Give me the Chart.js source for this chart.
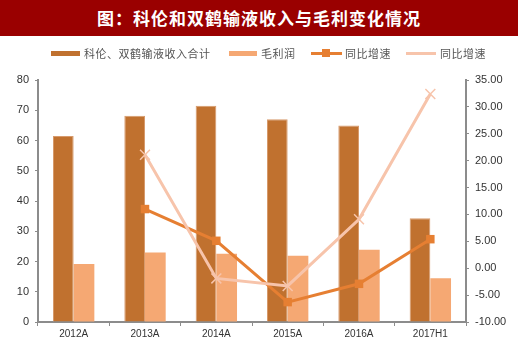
<!DOCTYPE html>
<html lang="zh">
<head>
<meta charset="UTF-8">
<title>科伦和双鹤输液收入与毛利变化情况</title>
<script src="https://cdn.jsdelivr.net/npm/chart.js"></script>
<style>
    body { margin: 0; width: 518px; height: 351px; background: #fff; position: relative; overflow: hidden; font-family: "Noto Sans CJK SC", sans-serif; }
    .banner { position: absolute; left: 0; top: 0; width: 518px; height: 36px; background: #9a0000; color: #fff; font-weight: bold; font-size: 17px; line-height: 36px; text-align: center; letter-spacing: 1px; }
    .leg { position: absolute; top: 45px; height: 16px; font-size: 11px; color: #555; line-height: 16px; letter-spacing: 0.5px; white-space: nowrap; }
    .sw { position: absolute; }
    #wrap { position: absolute; left: 0; top: 0; width: 518px; height: 351px; }
</style>
</head>
<body>
<div id="wrap"><canvas id="grafico"></canvas></div>
<div class="banner">图：科伦和双鹤输液收入与毛利变化情况</div>

<div class="sw" style="left:51px;top:51px;width:29px;height:5px;background:#c0712f"></div>
<div class="leg" style="left:84px">科伦、双鹤输液收入合计</div>
<div class="sw" style="left:229px;top:51px;width:28px;height:5px;background:#f5a873"></div>
<div class="leg" style="left:261px">毛利润</div>
<div class="sw" style="left:311px;top:52px;width:31px;height:3px;background:#e67f32"></div>
<div class="sw" style="left:322px;top:49px;width:8px;height:8px;background:#e67f32"></div>
<div class="leg" style="left:345px">同比增速</div>
<div class="sw" style="left:406px;top:52px;width:30px;height:3px;background:#f7c4ab"></div>
<div class="leg" style="left:440px">同比增速</div>

<script>
    // dados
    var categorias = ['2012A', '2013A', '2014A', '2015A', '2016A', '2017H1'];
    var receita = [61.5, 68.2, 71.5, 67.0, 65.0, 34.3];
    var lucroBruto = [19.2, 23.0, 22.6, 21.9, 23.9, 14.5];
    var crescLucro = [null, 11.0, 5.1, -6.3, -2.9, 5.4];
    var crescReceita = [null, 21.1, -1.9, -3.3, 9.1, 32.4];

    var ticksEsq = [0, 10, 20, 30, 40, 50, 60, 70, 80];
    var ticksDir = [-10, -5, 0, 5, 10, 15, 20, 25, 30, 35];

    const ctx = document.getElementById('grafico');

    new Chart(ctx, {
        data: {
            labels: categorias,
            datasets: [
                {
                    type: 'line',
                    label: '同比增速',
                    data: crescLucro,
                    yAxisID: 'y2',
                    borderColor: '#e67f32',
                    backgroundColor: '#e67f32',
                    borderWidth: 3,
                    pointStyle: 'rect',
                    pointRadius: 6,
                    pointBorderWidth: 0,
                    order: 1
                },
                {
                    type: 'line',
                    label: '同比增速',
                    data: crescReceita,
                    yAxisID: 'y2',
                    borderColor: '#f7c4ab',
                    backgroundColor: '#f7c4ab',
                    borderWidth: 3,
                    pointStyle: 'crossRot',
                    pointRadius: 7,
                    pointBorderWidth: 1.5,
                    order: 0
                },
                {
                    type: 'bar',
                    label: '科伦、双鹤输液收入合计',
                    data: receita,
                    yAxisID: 'y',
                    backgroundColor: '#c0712f',
                    borderColor: '#d79a6c',
                    borderWidth: 1,
                    categoryPercentage: 0.58,
                    barPercentage: 1.0,
                    order: 2
                },
                {
                    type: 'bar',
                    label: '毛利润',
                    data: lucroBruto,
                    yAxisID: 'y',
                    backgroundColor: '#f5a873',
                    categoryPercentage: 0.58,
                    barPercentage: 1.0,
                    order: 2
                }
            ]
        },
        options: {
            responsive: true,
            maintainAspectRatio: false,
            animation: false,
            layout: { padding: { top: 80, left: 0, right: 0, bottom: 0 } },
            plugins: {
                legend: { display: false },
                tooltip: { enabled: false }
            },
            scales: {
                x: {
                    afterFit: function (s) { s.height = 29; },
                    grid: { drawOnChartArea: false, drawTicks: true, tickLength: 4, color: '#8c8c8c', offset: true },
                    border: { color: '#8c8c8c', width: 2 },
                    ticks: { color: '#333', font: { family: 'Liberation Sans, Arial', size: 10 }, padding: 2 }
                },
                y: {
                    position: 'left',
                    min: 0,
                    max: 80,
                    afterFit: function (s) { s.width = 38; },
                    afterBuildTicks: function (s) { s.ticks = ticksEsq.map(function (v) { return { value: v }; }); },
                    grid: { drawOnChartArea: false, tickLength: 3, color: '#8c8c8c' },
                    border: { color: '#8c8c8c', width: 2 },
                    ticks: { color: '#333', font: { family: 'Liberation Sans, Arial', size: 11 }, padding: 6 }
                },
                y2: {
                    position: 'right',
                    min: -10,
                    max: 35,
                    afterFit: function (s) { s.width = 52; },
                    afterBuildTicks: function (s) { s.ticks = ticksDir.map(function (v) { return { value: v }; }); },
                    grid: { drawOnChartArea: false, tickLength: 3, color: '#8c8c8c' },
                    border: { color: '#8c8c8c', width: 2 },
                    ticks: {
                        color: '#333',
                        font: { family: 'Liberation Sans, Arial', size: 11 },
                        padding: 6,
                        callback: function (v) { return v.toFixed(2); }
                    }
                }
            }
        }
    });
</script>
</body>
</html>
